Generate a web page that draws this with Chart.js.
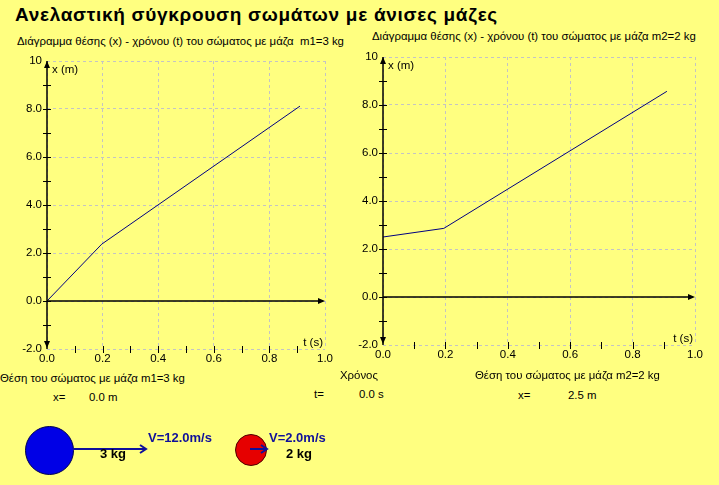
<!DOCTYPE html>
<html>
<head>
<meta charset="utf-8">
<script src="https://cdn.jsdelivr.net/npm/chart.js@4.4.0/dist/chart.umd.min.js"></script>
<style>
  body { margin: 0; background: #ffff80; width: 719px; height: 485px; overflow: hidden; position: relative;
         font-family: 'Liberation Sans', Arial, sans-serif; }
  .t { position: absolute; font-size: 11.4px; line-height: 12px; white-space: nowrap; color: #000; }
  .b { position: absolute; font-size: 13px; line-height: 14px; font-weight: bold; white-space: nowrap; }
  canvas { position: absolute; }
  .ball { position: absolute; border-radius: 50%; box-sizing: border-box; }
</style>
</head>
<body>
<div class="t" style="left:15px;top:5px;font-size:19px;line-height:20px;font-weight:bold;letter-spacing:0.7px;">Ανελαστική σύγκρουση σωμάτων με άνισες μάζες</div>
<div class="t" style="left:17px;top:35px;">Διάγραμμα θέσης (x) - χρόνου (t) του σώματος με μάζα&nbsp; m1=3 kg</div>
<div class="t" style="left:372px;top:30px;">Διάγραμμα θέσης (x) - χρόνου (t) του σώματος με μάζα m2=2 kg</div>

<canvas id="chart1" width="345" height="326" style="left:0px;top:45px;"></canvas>
<canvas id="chart2" width="379" height="325" style="left:336px;top:42px;"></canvas>

<div class="t" style="left:0px;top:372px;">Θέση του σώματος με μάζα m1=3 kg</div>
<div class="t" style="left:340px;top:369px;">Χρόνος</div>
<div class="t" style="left:475px;top:369px;">Θέση του σώματος με μάζα m2=2 kg</div>
<div class="t" style="left:53px;top:391px;">x=</div>
<div class="t" style="left:89px;top:391px;">0.0 m</div>
<div class="t" style="left:314px;top:388px;">t=</div>
<div class="t" style="left:359px;top:388px;">0.0 s</div>
<div class="t" style="left:518px;top:389px;">x=</div>
<div class="t" style="left:568px;top:389px;">2.5 m</div>

<div class="ball" style="left:25px;top:426px;width:49px;height:49px;background:#0000e6;border:1px solid #000050;"></div>
<div class="ball" style="left:235px;top:434px;width:32px;height:32px;background:#e60000;border:1px solid #500000;"></div>
<svg style="position:absolute;left:0;top:0" width="719" height="485">
  <g stroke="#10109a" stroke-width="2" fill="none">
    <line x1="73" y1="449" x2="145" y2="449"/>
    <polyline points="140,445 146,449 140,453"/>
    <line x1="250" y1="449" x2="266" y2="449"/>
    <polyline points="261,445 267,449 261,453"/>
  </g>
</svg>
<div class="b" style="left:148px;top:431px;color:#10109a;">V=12.0m/s</div>
<div class="b" style="left:100px;top:447px;color:#000;">3 kg</div>
<div class="b" style="left:269px;top:431px;color:#10109a;">V=2.0m/s</div>
<div class="b" style="left:286px;top:447px;color:#000;">2 kg</div>

<script>
// time (s) and position (m)
var t1 = [0, 0.197, 0.91];
var pos1 = [0, 2.37, 8.12];
var t2 = [0, 0.195, 0.91];
var pos2 = [2.5, 2.86, 8.57];

var xTickLabels = ['0.0', '0.2', '0.4', '0.6', '0.8', '1.0'];
var yTickLabels = ['-2.0', '0.0', '2.0', '4.0', '6.0', '8.0', '10'];

var tickFont = { family: "'Liberation Sans', Arial, sans-serif", size: 11.5 };

// draws the black axes with arrows, the small ticks and the axis names
var axesPlugin = {
  id: 'axes',
  afterDraw(chart) {
    var ctx = chart.ctx;
    var sx = chart.scales.x, sy = chart.scales.y;
    var x0 = sx.getPixelForValue(0), x1 = sx.getPixelForValue(1);
    var y0 = sy.getPixelForValue(0), yTop = sy.getPixelForValue(10), yBot = sy.getPixelForValue(-2);
    ctx.save();
    ctx.strokeStyle = '#000';
    ctx.fillStyle = '#000';
    ctx.lineWidth = 1.5;
    ctx.beginPath();
    ctx.moveTo(x0, yTop); ctx.lineTo(x0, yBot);
    ctx.moveTo(x0, y0); ctx.lineTo(x1 - 2, y0);
    ctx.stroke();
    // arrow heads
    ctx.beginPath();
    ctx.moveTo(x0, yTop); ctx.lineTo(x0 - 3, yTop + 7); ctx.lineTo(x0 + 3, yTop + 7); ctx.closePath();
    ctx.moveTo(x0, yBot - 1); ctx.lineTo(x0 - 3, yBot - 8); ctx.lineTo(x0 + 3, yBot - 8); ctx.closePath();
    ctx.moveTo(x1, y0); ctx.lineTo(x1 - 7, y0 - 3); ctx.lineTo(x1 - 7, y0 + 3); ctx.closePath();
    ctx.fill();
    // ticks
    ctx.lineWidth = 1;
    ctx.beginPath();
    for (var v = -1; v < 10; v++) {
      var py = Math.round(sy.getPixelForValue(v)) + 0.5;
      ctx.moveTo(x0 - 4, py); ctx.lineTo(x0 + 4, py);
    }
    for (var k = 1; k < 10; k++) {
      var px = Math.round(sx.getPixelForValue(k / 10)) + 0.5;
      ctx.moveTo(px, yBot - 3); ctx.lineTo(px, yBot + 4);
    }
    ctx.stroke();
    ctx.font = "11.5px 'Liberation Sans', Arial, sans-serif";
    ctx.textBaseline = 'middle';
    ctx.textAlign = 'left';
    ctx.fillText('x (m)', x0 + 5, yTop + 9);
    ctx.textAlign = 'right';
    ctx.fillText('t (s)', x1 - 2, yBot - 6);
    ctx.restore();
  }
};

function makeChart(id, times, positions, padTop) {
  var points = times.map(function (t, i) { return { x: t, y: positions[i] }; });
  return new Chart(document.getElementById(id), {
    type: 'line',
    data: {
      datasets: [{
        data: points,
        borderColor: '#000080',
        borderWidth: 1,
        pointRadius: 0,
        tension: 0,
        fill: false
      }]
    },
    options: {
      responsive: false,
      animation: false,
      events: [],
      layout: { padding: { top: padTop, right: 20, left: 0, bottom: 0 } },
      plugins: { legend: { display: false }, tooltip: { enabled: false } },
      scales: {
        x: {
          type: 'linear', min: 0, max: 1,
          afterFit: function (s) { s.height = 22; },
          ticks: { stepSize: 0.2, autoSkip: false, maxRotation: 0, padding: 3, color: '#000', font: tickFont,
                   callback: function (v, i) { return xTickLabels[i]; } },
          grid: { color: '#c4c4c4', drawTicks: false },
          border: { display: false, dash: [3, 3] }
        },
        y: {
          min: -2, max: 10,
          afterFit: function (s) { s.width = 47; },
          ticks: { stepSize: 2, padding: 5, color: '#000', font: tickFont,
                   callback: function (v, i) { return yTickLabels[i]; } },
          grid: { color: '#c4c4c4', drawTicks: false },
          border: { display: false, dash: [3, 3] }
        }
      }
    },
    plugins: [axesPlugin]
  });
}

makeChart('chart1', t1, pos1, 16);
makeChart('chart2', t2, pos2, 15);
</script>
</body>
</html>
